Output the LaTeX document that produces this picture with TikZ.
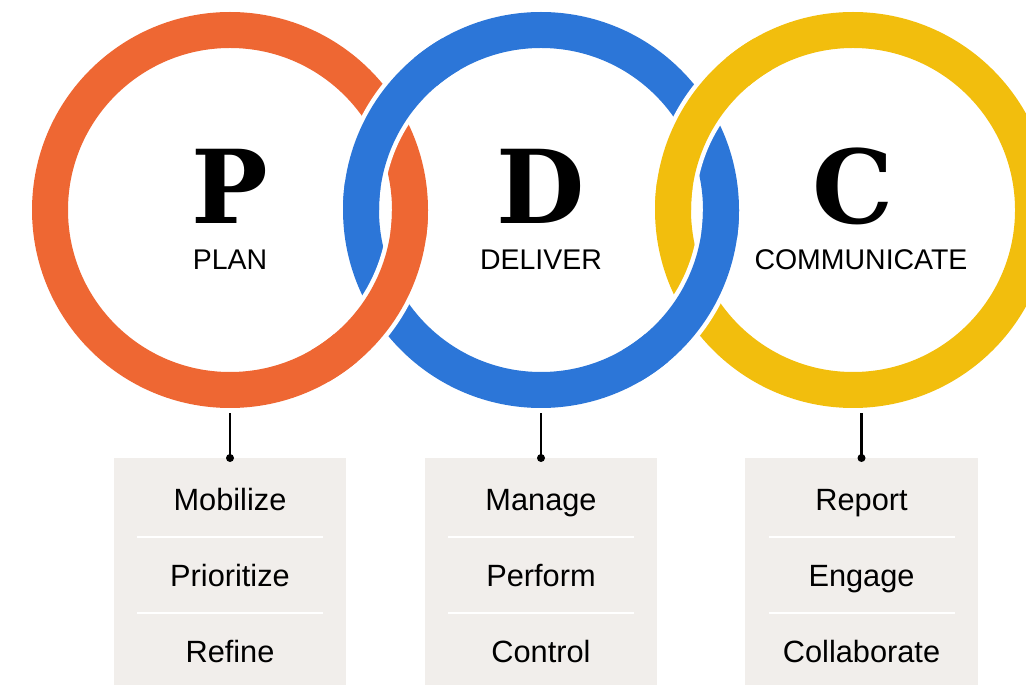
\documentclass[tikz,border=0pt]{standalone}
\usepackage{fontspec}
\setmainfont{Liberation Sans}
\newfontfamily\letterfont{DejaVu Serif}
\usetikzlibrary{positioning}
\definecolor{planorange}{HTML}{EE6733}
\definecolor{deliverblue}{HTML}{2C76D8}
\definecolor{commyellow}{HTML}{F2BE0D}
\definecolor{listgray}{HTML}{F1EEEB}
\tikzset{
    ring/.style={line width=0.72cm},
    ringgap/.style={draw=white, line width=0.9cm},
    bigletter/.style={anchor=base, font=\letterfont\bfseries\fontsize{58}{58}\selectfont},
    phasename/.style={anchor=base, font=\fontsize{16.2}{18}\selectfont},
    listbox/.style={rectangle, fill=listgray, anchor=north, minimum width=4.66cm, minimum height=4.54cm, inner sep=0pt},
    itemtext/.style={anchor=base, font=\fontsize{17.5}{20}\selectfont},
    sepline/.style={draw=white, line width=1.2pt},
    myline/.style={draw=black, line width=1.3pt},
    mydot/.style={shape=circle, fill=black, inner sep=0pt, minimum size=0.16cm}
}
\begin{document}
\begin{tikzpicture}[x=0.02cm, y=-0.02cm]
    \clip (0,0) rectangle (1026,685);

        % ------------------
        % rings
        % ------------------

        \coordinate (planc) at (230,210);
        \coordinate (deliverc) at (541,210);
        \coordinate (commc) at (853,210);

        \draw[ring, draw=planorange] (planc) circle[radius=180];
        \draw[ring, draw=deliverblue] (deliverc) circle[radius=180];
        \draw[ring, draw=commyellow] (commc) circle[radius=180];

        % orange over blue (bottom), blue over orange (top)
        \draw[ringgap] (planc) ++(8:180) arc[start angle=8, end angle=50, radius=180];
        \draw[ring, draw=planorange] (planc) ++(0:180) arc[start angle=0, end angle=60, radius=180];
        \draw[ringgap] (deliverc) ++(188:180) arc[start angle=188, end angle=230, radius=180];
        \draw[ring, draw=deliverblue] (deliverc) ++(180:180) arc[start angle=180, end angle=240, radius=180];

        % blue over yellow (bottom), yellow over blue (top)
        \draw[ringgap] (deliverc) ++(8:180) arc[start angle=8, end angle=50, radius=180];
        \draw[ring, draw=deliverblue] (deliverc) ++(0:180) arc[start angle=0, end angle=60, radius=180];
        \draw[ringgap] (commc) ++(188:180) arc[start angle=188, end angle=230, radius=180];
        \draw[ring, draw=commyellow] (commc) ++(180:180) arc[start angle=180, end angle=240, radius=180];

        % ------------------
        % titles
        % ------------------

        \node[bigletter] (pletter) at (230,224) {P};
        \node[phasename] (plan) at (230,270) {PLAN};

        \node[bigletter] (dletter) at (541,224) {D};
        \node[phasename] (deliver) at (541,270) {DELIVER};

        \node[bigletter] (cletter) at (853,224) {C};
        \node[phasename] (communicate) at (861,270) {COMMUNICATE};

        % ------------------
        % lists
        % ------------------

        \node[listbox] (planbox) at (230,458) {};
        \node[listbox] (deliverbox) at (541,458) {};
        \node[listbox] (commbox) at (861.5,458) {};

        \foreach \cx in {230,541,861.5}
            \foreach \sy in {537,613}
                \draw[sepline] (\cx-93,\sy) -- (\cx+93,\sy);

        \node[itemtext] (mobilize) at (230,510) {Mobilize};
        \node[itemtext] (prioritize) at (230,586) {Prioritize};
        \node[itemtext] (refine) at (230,662) {Refine};

        \node[itemtext] (manage) at (541,510) {Manage};
        \node[itemtext] (perform) at (541,586) {Perform};
        \node[itemtext] (control) at (541,662) {Control};

        \node[itemtext] (report) at (861.5,510) {Report};
        \node[itemtext] (engage) at (861.5,586) {Engage};
        \node[itemtext] (collaborate) at (861.5,662) {Collaborate};

        % ------------------
        % links
        % ------------------

        \coordinate (planlink) at (230,413);
        \coordinate (deliverlink) at (541,413);
        \coordinate (commlink) at (861.5,413);

        \draw[myline] (planlink) -- (planbox.north) node[mydot] (plandot) {};
        \draw[myline] (deliverlink) -- (deliverbox.north) node[mydot] (deliverdot) {};
        \draw[myline] (commlink) -- (commbox.north) node[mydot] (commdot) {};

\end{tikzpicture}
\end{document}
